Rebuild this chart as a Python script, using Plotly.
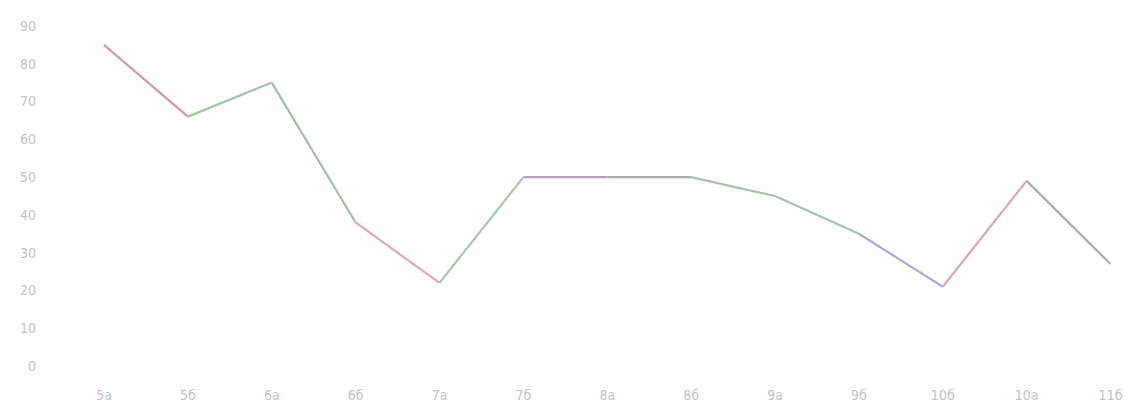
import plotly.graph_objects as go

classes = ["5а", "5б", "6а", "6б", "7а", "7б", "8а", "8б", "9а", "9б", "10б", "10а", "11б"]
values = [85, 66, 75, 38, 22, 50, 50, 50, 45, 35, 21, 49, 27]
y_ticks = [0, 10, 20, 30, 40, 50, 60, 70, 80, 90]

segment_colors = ["#d49aa4", "#a6c4aa", "#9fbfa6", "#deaab4", "#a9c6b2", "#b7a2c6",
                  "#b0aab0", "#a5c3ad", "#a8c0b8", "#afa9d2", "#d8a6b6", "#a8aea8"]

fig = go.Figure()
for i in range(len(classes) - 1):
    fig.add_trace(go.Scatter(
        x=classes[i:i + 2], y=values[i:i + 2], mode="lines",
        line=dict(color=segment_colors[i], width=2.2),
        showlegend=False, hoverinfo="skip"))

font = dict(family="DejaVu Sans Condensed, DejaVu Sans, sans-serif", size=14, color="#c4c4c4")

fig.update_layout(
    width=1139, height=414,
    margin=dict(l=40, r=5, t=7, b=29),
    paper_bgcolor="white", plot_bgcolor="white",
    font=font,
)
fig.update_xaxes(type="category", categoryorder="array", categoryarray=classes,
                 range=[-0.763, 12.28], showgrid=False, zeroline=False, showline=False,
                 ticks="", tickfont=font, ticklabelstandoff=0)
fig.update_yaxes(range=[-5, 95], tickvals=y_ticks, showgrid=False, zeroline=False,
                 showline=False, ticks="", tickfont=font, ticklabelstandoff=3)

fig.write_html("out.html", config={"displayModeBar": False, "staticPlot": True})

with open("out.html", encoding="utf-8") as f:
    html = f.read()
html = html.replace("<body>", '<body style="margin:0;overflow:hidden">', 1)
with open("out.html", "w", encoding="utf-8") as f:
    f.write(html)
